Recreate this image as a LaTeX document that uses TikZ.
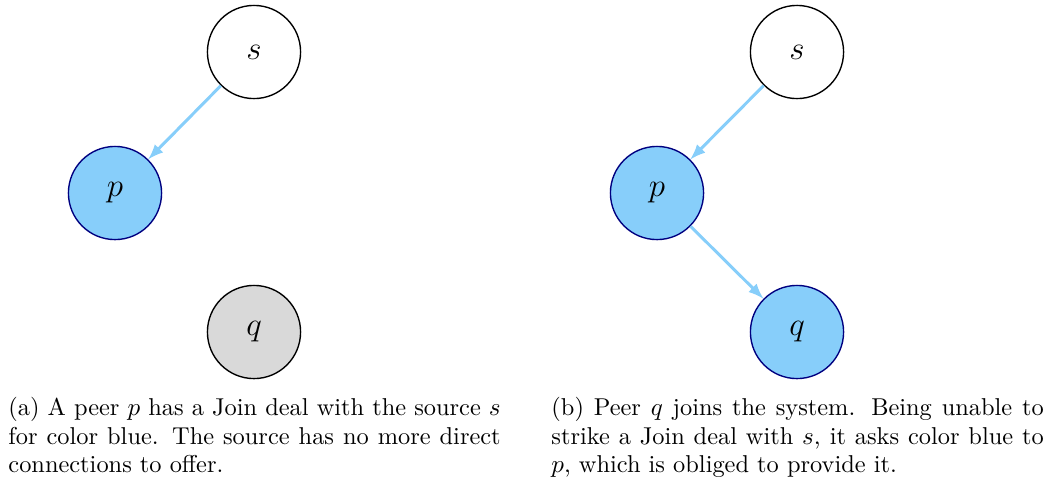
\documentclass[tikz,border=0pt]{standalone}
\usepackage{tikz}
\usetikzlibrary{positioning, arrows.meta, calc}

\definecolor{peerblue}{HTML}{87CEFA}
\definecolor{peeredge}{HTML}{000080}
\definecolor{idlegray}{HTML}{D9D9D9}

\begin{document}
\begin{tikzpicture}[
  >=latex,
  x=0.015344cm, y=-0.015344cm,
  nd/.style={circle, draw, minimum size=1.43cm, inner sep=0pt, font=\fontsize{15.5pt}{18pt}\selectfont},
  src/.style={nd, fill=white, line width=0.6pt},
  peer/.style={nd, fill=peerblue, draw=peeredge, line width=0.6pt},
  idle/.style={nd, fill=idlegray, line width=0.6pt},
  deal/.style={->, draw=peerblue, line width=1.3pt},
  captxt/.style={anchor=north west, inner sep=0pt, text width=215pt, align=justify,
    font=\fontsize{10.65pt}{12.4pt}\selectfont}
]
  \useasboundingbox (0,0) rectangle (1047,482);

  % (a)
  \node[src]  (sa) at (254,52)  {$s$};
  \node[peer] (pa) at (115,193) {$p$};
  \node[idle] (qa) at (254,332) {$q$};
  \draw[deal] (sa) -- (pa);

  % (b)
  \node[src]  (sb) at (797,52)  {$s$};
  \node[peer] (pb) at (657,193) {$p$};
  \node[peer] (qb) at (797,332) {$q$};
  \draw[deal] (sb) -- (pb);
  \draw[deal] (pb) -- (qb);

  % captions
  \node[captxt] (capa) at (8,397) {(a) A peer $p$ has a Join deal with the source $s$ for color blue. The source has no more direct connections to offer.};
  \node[captxt] (capb) at (551,397) {(b) Peer $q$ joins the system. Being unable to strike a Join deal with $s$, it asks color blue to $p$, which is obliged to provide it.};
\end{tikzpicture}
\end{document}
